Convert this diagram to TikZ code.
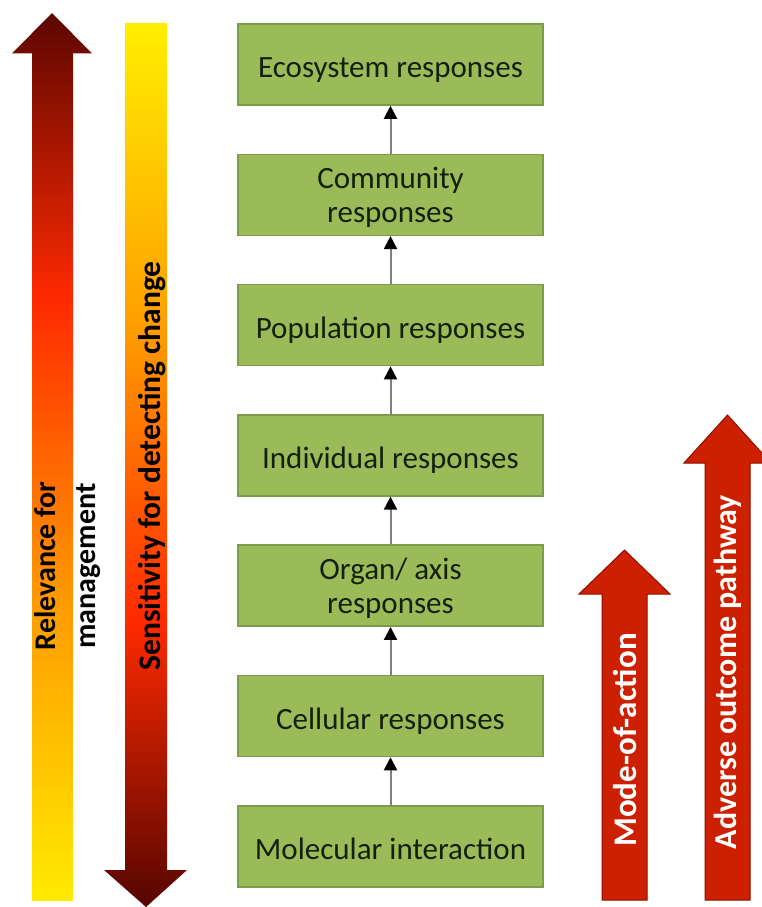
\documentclass[tikz,border=0pt]{standalone}
\usepackage{fontspec}
\setmainfont{Carlito}
\usetikzlibrary{arrows.meta}
\definecolor{boxfill}{HTML}{9BBB59}
\definecolor{boxedge}{HTML}{7E9C48}
\definecolor{boxtext}{HTML}{14200C}
\definecolor{linkgray}{HTML}{808080}
\definecolor{redfill}{HTML}{CD2000}
\definecolor{rededge}{HTML}{8B0F00}
\definecolor{aA}{HTML}{5C0600}
\definecolor{aB}{HTML}{730B00}
\definecolor{aC}{HTML}{FF2A00}
\definecolor{aD}{HTML}{FF9A00}
\definecolor{aE}{HTML}{FFEA00}
\definecolor{bA}{HTML}{FFEE00}
\definecolor{bB}{HTML}{FFA000}
\definecolor{bC}{HTML}{FF2A00}
\definecolor{bD}{HTML}{6B0A00}
\definecolor{bE}{HTML}{550500}
\begin{document}
\begin{tikzpicture}[x=1pt,y=-1pt,
  box/.style={draw=boxedge,fill=boxfill,line width=1.5pt,minimum width=305pt,minimum height=81pt,inner sep=0pt,text depth=0pt,align=center,font=\fontsize{31}{34}\selectfont,text=boxtext},
  onebox/.style={box,text height=26pt},
  link/.style={draw=linkgray,line width=2pt,-{Triangle[length=13pt,width=13pt,color=black]}},
  redarrow/.style={fill=redfill,draw=rededge,line width=1pt},
  sidelabel/.style={rotate=90,align=center,font=\bfseries\fontsize{30}{40}\selectfont},
  seg/.style={draw=none}
]
\useasboundingbox (0,0) rectangle (761,907);

% left arrow 1 (Relevance) - gradient, pointing up
\shade[seg,top color=aA,bottom color=aB] (52,13) -- (92,53.5) -- (12,53.5) -- cycle;
\shade[seg,top color=aB,bottom color=aC] (32,53) rectangle (73,300.5);
\shade[seg,top color=aC,bottom color=aD] (32,300) rectangle (73,600.5);
\shade[seg,top color=aD,bottom color=aE] (32,600) rectangle (73,900);

% left arrow 2 (Sensitivity) - gradient, pointing down
\shade[seg,top color=bA,bottom color=bB] (125,24) rectangle (167,320.5);
\shade[seg,top color=bB,bottom color=bC] (125,320) rectangle (167,620.5);
\shade[seg,top color=bC,bottom color=bD] (125,620) rectangle (167,870.5);
\shade[seg,top color=bD,bottom color=bE] (104,870) -- (187,870) -- (146,907) -- cycle;

\node[sidelabel] (rel) at (68,566) {Relevance for\\management};
\node[sidelabel,font=\bfseries\fontsize{31.5}{40}\selectfont] (sens) at (152,466) {Sensitivity for detecting change};

% boxes
\node[onebox] (eco) at (390.5,64.5) {Ecosystem responses};
\node[box] (com) at (390.5,194.8) {Community\\responses};
\node[onebox] (pop) at (390.5,325.1) {Population responses};
\node[onebox] (ind) at (390.5,455.4) {Individual responses};
\node[box] (org) at (390.5,585.7) {Organ/ axis\\responses};
\node[onebox] (cel) at (390.5,716) {Cellular responses};
\node[onebox] (mol) at (390.5,846.3) {Molecular interaction};

\draw[link] (mol.north) -- (cel.south);
\draw[link] (cel.north) -- (org.south);
\draw[link] (org.north) -- (ind.south);
\draw[link] (ind.north) -- (pop.south);
\draw[link] (pop.north) -- (com.south);
\draw[link] (com.north) -- (eco.south);

% right arrows
\draw[redarrow] (624.5,550) -- (670,594) -- (647,594) -- (647,900) -- (602,900) -- (602,594) -- (579,594) -- cycle;
\draw[redarrow] (727.5,415) -- (771,463) -- (750,463) -- (750,900) -- (705,900) -- (705,463) -- (684,463) -- cycle;

\node[sidelabel,text=white,font=\bfseries\fontsize{33}{40}\selectfont] (moa) at (625,740) {Mode-of-action};
\node[sidelabel,text=white,font=\bfseries\fontsize{32}{40}\selectfont] (aop) at (727.5,672) {Adverse outcome pathway};
\end{tikzpicture}
\end{document}
